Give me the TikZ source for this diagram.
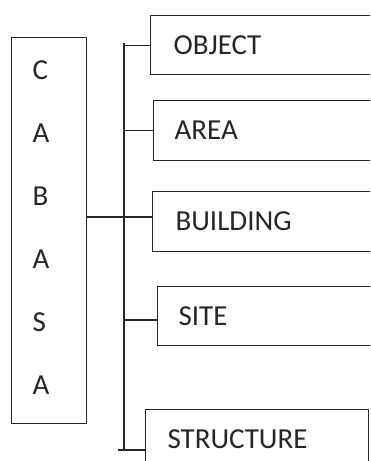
\documentclass[tikz,border=0pt]{standalone}
\usepackage{fontspec}
\setmainfont{Carlito}
\begin{document}
\begin{tikzpicture}[x=1pt,y=-1pt,
  line/.style={draw=black!85, line width=1.2pt},
  catbox/.style={line, anchor=north west, inner xsep=0pt, inner ysep=0pt,
     font=\fontsize{29}{34}\selectfont, text=black!85},
  conn/.style={line, line cap=rect}]
\path[use as bounding box] (0,0) rectangle (370,461);
\clip (0,0) rectangle (370,461);
% left box
\node[line, anchor=north west, minimum width=75pt, minimum height=386pt,
  text width=75pt, inner sep=0pt, align=left, text=black!85,
  font=\fontsize{29}{63}\selectfont] (cabasa) at (11,37)
  {\hspace*{21pt}C\\\hspace*{21pt}A\\\hspace*{21pt}B\\\hspace*{21pt}A\\\hspace*{21pt}S\\\hspace*{21pt}A\\[-57pt]\mbox{}};
% category boxes
\node[catbox, minimum width=260pt, minimum height=59pt, text width=260pt, align=left] (object) at (150,15) {\hspace*{23pt}OBJECT};
\node[catbox, minimum width=260pt, minimum height=60pt, text width=260pt, align=left] (area) at (153,100) {\hspace*{21pt}AREA};
\node[catbox, minimum width=260pt, minimum height=60pt, text width=260pt, align=left] (building) at (152,191) {\hspace*{23pt}BUILDING};
\node[catbox, minimum width=260pt, minimum height=59pt, text width=260pt, align=left] (site) at (157,286) {\hspace*{21pt}SITE};
\node[catbox, minimum width=223pt, minimum height=80pt, text width=223pt, align=left, anchor=north west] (structure) at (145,409) {\raisebox{0pt}[0pt][0pt]{}\\[-35pt]\hspace*{22pt}STRUCTURE};
% bus
\coordinate (bustop) at (124,43);
\coordinate (busbot) at (124,450);
\coordinate (bustick) at (118,450);
\draw[line] (bustop) -- (busbot);
\draw[line] (bustop |- object.west) -- (object.west);
\draw[line] (bustop |- area.west) -- (area.west);
\draw[line] (bustop |- 0,320) -- (site.west |- 0,320);
\draw[line] (bustick) -- (structure.west |- bustick);
\draw[line] (cabasa.east |- 0,217) -- (building.west |- 0,217);
\end{tikzpicture}
\end{document}
